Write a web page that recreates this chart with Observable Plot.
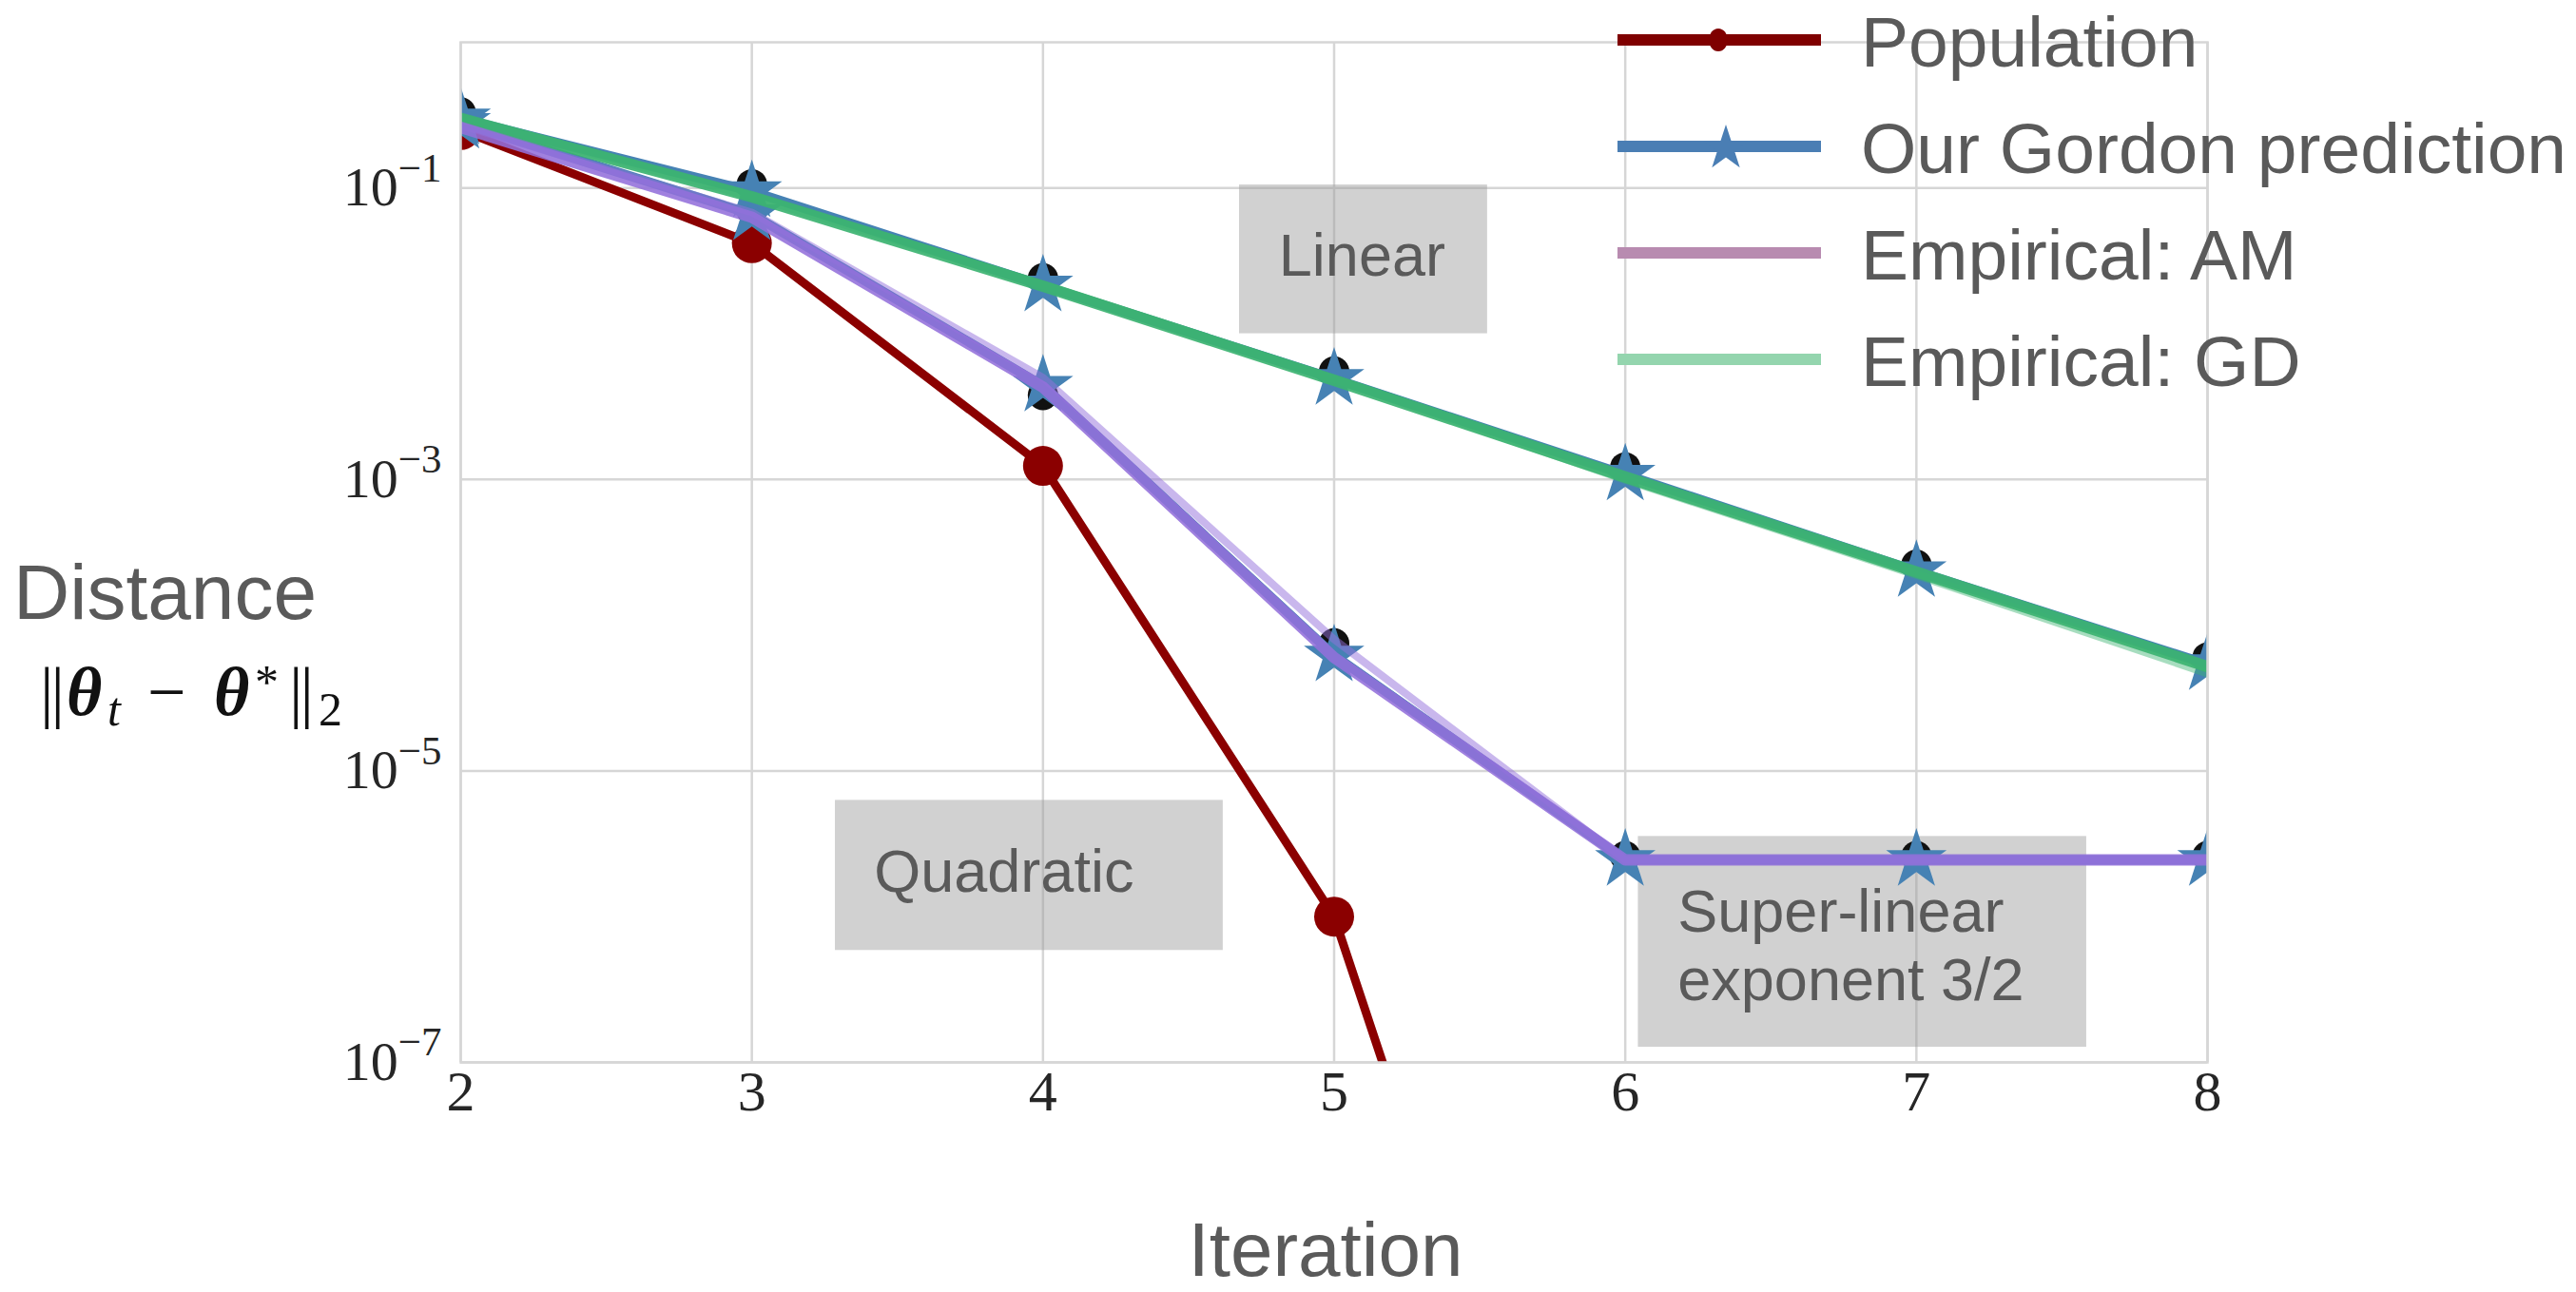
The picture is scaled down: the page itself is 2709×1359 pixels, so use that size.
<!DOCTYPE html>
<html>
<head>
<meta charset="utf-8">
<script src="https://cdn.jsdelivr.net/npm/d3@7"></script>
<script src="https://cdn.jsdelivr.net/npm/@observablehq/plot@0.6"></script>
<style>
html, body { margin: 0; padding: 0; background: #fff; }
#wrap { position: relative; width: 2709px; height: 1359px; overflow: hidden; background: #fff; }
#wrap > svg { position: absolute; left: 0; top: 0; }
</style>
</head>
<body>
<div id="wrap"></div>
<script>
// ---------- data ----------
const iterations = [2, 3, 4, 5, 6, 7, 8];
const xTicks = [2, 3, 4, 5, 6, 7, 8];
const yTicks = [1e-1, 1e-3, 1e-5, 1e-7];

const population = [0.25, 0.0418, 0.00124, 1.0e-6, 1.0e-12];
const gordonGD = [0.30, 0.095, 0.0214, 0.0049, 0.00108, 0.000235, 0.000054];
const gordonAM = [0.28, 0.066, 0.0044, 6.2e-5, 2.45e-6, 2.45e-6, 2.45e-6];
const referenceGD = [0.33, 0.106, 0.024, 0.0055, 0.00121, 0.00026, 0.00006];
const referenceAM = [0.30, 0.070, 0.0038, 7.5e-5, 2.6e-6, 2.6e-6, 2.6e-6];
const empiricalGD1 = [0.30, 0.087, 0.0212, 0.0048, 0.00104, 0.000232, 0.000052];
const empiricalGD2 = [0.30, 0.088, 0.0216, 0.0049, 0.00100, 0.000222, 0.000047];
const empiricalAM1 = [0.26, 0.063, 0.0043, 6.0e-5, 2.45e-6, 2.45e-6, 2.45e-6];
const empiricalAM2 = [0.27, 0.068, 0.0050, 8.0e-5, 2.45e-6, 2.45e-6, 2.45e-6];

const annotationText = ["Linear", "Quadratic", "Super-linear\nexponent 3/2"];
const annotationX = [4.81, 3.42, 6.18];
const annotationY = [0.0355, 2.1e-6, 6.5e-7];
const boxX1 = [4.675, 3.287, 6.045];
const boxX2 = [5.527, 4.619, 7.585];
const boxY1 = [0.0100, 5.86e-7, 1.27e-7];
const boxY2 = [0.105, 6.28e-6, 3.55e-6];

const legendLabels = ["Population", "Our Gordon prediction", "Empirical: AM", "Empirical: GD"];
const legendColors = ["#7f0000", "#4a7eb4", "#b88bb0", "#94d5ae"];
const legendMarkers = ["circle", "star", null, null];

// ---------- tables ----------
const toRows = (vals) => vals.map((v, i) => ({x: iterations[i], y: v}));
const popRows = toRows(population);
const boxes = annotationText.map((t, i) => ({x1: boxX1[i], x2: boxX2[i], y1: boxY1[i], y2: boxY2[i]}));
const notes = annotationText.map((t, i) => ({x: annotationX[i], y: annotationY[i], text: t}));

const purple = "#9370db", green = "#3cb371", steel = "#4682b4", red = "#8b0000";

const chart = Plot.plot({
  width: 2709,
  height: 1359,
  marginLeft: 484,
  marginRight: 388,
  marginTop: 44,
  marginBottom: 242,
  style: {fontFamily: "'Liberation Serif', 'DejaVu Serif', serif", fontSize: "58px", color: "#262626", background: "transparent", overflow: "visible"},
  x: {domain: [2, 8]},
  y: {type: "log", domain: [1e-7, 1]},
  marks: [
    Plot.gridX(xTicks, {stroke: "#d6d6d6", strokeOpacity: 1, strokeWidth: 2.5}),
    Plot.gridY(yTicks, {stroke: "#d6d6d6", strokeOpacity: 1, strokeWidth: 2.5}),
    Plot.rect(boxes, {x1: "x1", x2: "x2", y1: "y1", y2: "y2", fill: "#9a9a9a", fillOpacity: 0.46}),
    // population
    Plot.line(popRows, {x: "x", y: "y", stroke: red, strokeWidth: 9, clip: true}),
    Plot.dot(popRows, {x: "x", y: "y", r: 21, fill: red, clip: true}),
    // reference black markers behind stars
    Plot.dot(toRows(referenceGD), {x: "x", y: "y", r: 16, fill: "#111", clip: true}),
    Plot.dot(toRows(referenceAM), {x: "x", y: "y", r: 16, fill: "#111", clip: true}),
    // Gordon prediction
    Plot.line(toRows(gordonAM), {x: "x", y: "y", stroke: steel, strokeWidth: 10, clip: true}),
    Plot.line(toRows(gordonGD), {x: "x", y: "y", stroke: steel, strokeWidth: 10, clip: true}),
    Plot.dot(toRows(gordonAM), {x: "x", y: "y", symbol: "star", r: 20, fill: steel, clip: true}),
    Plot.dot(toRows(gordonGD), {x: "x", y: "y", symbol: "star", r: 20, fill: steel, clip: true}),
    // empirical
    Plot.line(toRows(empiricalGD2), {x: "x", y: "y", stroke: green, strokeOpacity: 0.45, strokeWidth: 9, clip: true}),
    Plot.line(toRows(empiricalGD1), {x: "x", y: "y", stroke: green, strokeOpacity: 0.92, strokeWidth: 12, clip: true}),
    Plot.line(toRows(empiricalAM2), {x: "x", y: "y", stroke: purple, strokeOpacity: 0.5, strokeWidth: 8, clip: true}),
    Plot.line(toRows(empiricalAM1), {x: "x", y: "y", stroke: purple, strokeOpacity: 0.88, strokeWidth: 12, clip: true}),
    // annotations
    Plot.text(notes, {x: "x", y: "y", text: "text", textAnchor: "start", lineAnchor: "middle", lineHeight: 1.15,
      fontSize: 63, fontFamily: "'Liberation Sans', Arial, sans-serif", fill: "#5a5a5a"}),
    Plot.axisX({ticks: xTicks, tickSize: 0, tickPadding: 8, tickFormat: (d) => String(d), label: null, fontSize: 60}),
    Plot.axisY({ticks: yTicks, tickSize: 0, tickPadding: 20, tickFormat: (d) => "10^" + Math.round(Math.log10(d)), label: null, fontSize: 58}),
    Plot.frame({stroke: "#d6d6d6", strokeWidth: 2.5})
  ]
});

const wrap = document.getElementById("wrap");
wrap.appendChild(chart);

// superscript exponents on y tick labels
const svgNS = "http://www.w3.org/2000/svg";
chart.querySelectorAll('[aria-label="y-axis tick label"] text').forEach((t) => {
  const parts = t.textContent.split("^");
  if (parts.length !== 2) return;
  t.textContent = parts[0];
  const ts = document.createElementNS(svgNS, "tspan");
  ts.setAttribute("dy", "-0.6em");
  ts.setAttribute("font-size", "0.74em");
  ts.textContent = parts[1].replace("-", "\u2212");
  t.appendChild(ts);
});

// ---------- overlay: axis labels & legend ----------
const ov = d3.select(wrap).append("svg")
  .attr("width", 2709).attr("height", 1359)
  .style("pointer-events", "none");

const sans = "'Liberation Sans', Arial, Helvetica, sans-serif";
const serif = "'Liberation Serif', 'DejaVu Serif', serif";
const labelColor = "#5a5a5a";

ov.append("text").attr("x", 14).attr("y", 651)
  .attr("font-family", sans).attr("font-size", 82).attr("fill", labelColor)
  .text("Distance");

ov.append("text").attr("x", 1394).attr("y", 1342).attr("text-anchor", "middle")
  .attr("font-family", sans).attr("font-size", 80).attr("fill", labelColor)
  .text("Iteration");

// math label ||theta_t - theta*||_2
const m = ov.append("text").attr("y", 752)
  .attr("font-family", serif).attr("font-size", 72).attr("fill", "#111");
m.append("tspan").attr("x", 42).attr("y", 752).attr("letter-spacing", -3).text("||");
m.append("tspan").attr("x", 70).attr("y", 752).attr("font-weight", "bold").attr("font-style", "italic").text("\u03B8");
m.append("tspan").attr("x", 113).attr("y", 763).attr("font-style", "italic").attr("font-size", 50).text("t");
m.append("tspan").attr("x", 155).attr("y", 752).text("\u2212");
m.append("tspan").attr("x", 225).attr("y", 752).attr("font-weight", "bold").attr("font-style", "italic").text("\u03B8");
m.append("tspan").attr("x", 268).attr("y", 734).attr("font-size", 50).text("*");
m.append("tspan").attr("x", 304).attr("y", 752).attr("letter-spacing", -3).text("||");
m.append("tspan").attr("x", 335).attr("y", 763).attr("font-size", 50).text("2");

// legend
const lg = ov.append("g");
legendLabels.forEach((lab, i) => {
  const yLine = 42 + i * 112;
  const yText = 70 + i * 112;
  lg.append("line").attr("x1", 1701).attr("x2", 1915).attr("y1", yLine).attr("y2", yLine)
    .attr("stroke", legendColors[i]).attr("stroke-width", 12);
  if (legendMarkers[i] === "circle") {
    lg.append("ellipse").attr("cx", 1807).attr("cy", yLine).attr("rx", 10).attr("ry", 12).attr("fill", legendColors[i]);
  } else if (legendMarkers[i] === "star") {
    lg.append("path").attr("transform", `translate(1815,${yLine + 2})`)
      .attr("d", d3.symbol(d3.symbolStar, 700)()).attr("fill", legendColors[i]);
  }
  lg.append("text").attr("x", 1957).attr("y", yText)
    .attr("font-family", sans).attr("font-size", 75).attr("fill", labelColor)
    .text(lab);
});
</script>
</body>
</html>
